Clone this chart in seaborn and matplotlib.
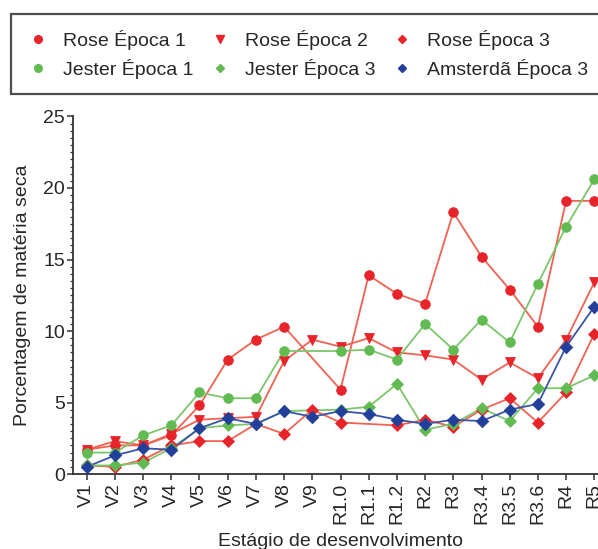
import numpy as np
import pandas as pd
import matplotlib
matplotlib.use("Agg")
import matplotlib.pyplot as plt
from matplotlib.lines import Line2D
from matplotlib.ticker import MultipleLocator
import seaborn as sns

nan = np.nan

stages = ["V1", "V2", "V3", "V4", "V5", "V6", "V7", "V8", "V9",
          "R1.0", "R1.1", "R1.2", "R2", "R3", "R3.4", "R3.5", "R3.6", "R4", "R5"]

rose_e1 = [1.7, 2.0, 2.0, 2.7, 4.8, 8.0, 9.4, 10.3, nan, 5.9, 13.9, 12.6, 11.9, 18.3, 15.2, 12.9, 10.3, 19.1, 19.1]
rose_e2 = [1.7, 2.3, 2.0, 2.8, 3.8, 3.9, 4.0, 7.9, 9.4, 8.9, 9.5, 8.5, 8.3, 8.0, 6.6, 7.8, 6.7, 9.4, 13.4]
rose_e3 = [0.6, 0.5, 1.0, 2.0, 2.3, 2.3, 3.5, 2.8, 4.5, 3.6, nan, 3.4, 3.8, 3.3, 4.5, 5.3, 3.6, 5.7, 9.8]
jester_e1 = [1.5, 1.5, 2.7, 3.4, 5.7, 5.3, 5.3, 8.6, nan, 8.6, 8.7, 8.0, 10.5, 8.7, 10.8, 9.2, 13.3, 17.3, 20.6]
jester_e3 = [0.6, 0.6, 0.8, 1.8, 3.2, 3.4, 3.5, 4.4, nan, 4.5, 4.7, 6.3, 3.1, 3.5, 4.6, 3.7, 6.0, 6.0, 6.9]
amsterda_e3 = [0.5, 1.3, 1.8, 1.7, 3.2, 3.9, 3.5, 4.4, 4.0, 4.4, 4.2, 3.8, 3.5, 3.8, 3.7, 4.5, 4.9, 8.9, 11.7]

series_names = ["Rose Época 1", "Rose Época 2", "Rose Época 3",
                "Jester Época 1", "Jester Época 3", "Amsterdã Época 3"]
series_values = [rose_e1, rose_e2, rose_e3, jester_e1, jester_e3, amsterda_e3]

RED, RED_LINE = "#e8242b", "#f06252"
GREEN, GREEN_LINE = "#62bb52", "#7cc66c"
BLUE, BLUE_LINE = "#22409a", "#3a55a8"

marker_colors = dict(zip(series_names, [RED, RED, RED, GREEN, GREEN, BLUE]))
line_colors = dict(zip(series_names, [RED_LINE, RED_LINE, RED_LINE, GREEN_LINE, GREEN_LINE, BLUE_LINE]))
marker_shapes = dict(zip(series_names, ["o", "v", "D", "o", "D", "D"]))
marker_sizes = dict(zip(series_names, [48, 50, 36, 48, 36, 40]))

# long-form table; missing stages are dropped so lines bridge across them
rows = []
for name, vals in zip(series_names, series_values):
    for i, v in enumerate(vals):
        rows.append({"pos": i, "stage": stages[i], "valor": v, "serie": name})
df = pd.DataFrame(rows).dropna(subset=["valor"])

sns.set_theme(style="ticks")
plt.rcParams["font.family"] = ["Liberation Sans", "DejaVu Sans"]

fig = plt.figure(figsize=(5.98, 5.49), dpi=100)
ax = fig.add_axes([0.1214, 0.1366, 0.896, 0.6512])

sns.lineplot(data=df, x="pos", y="valor", hue="serie", palette=line_colors,
             estimator=None, sort=True, linewidth=1.3, legend=False, ax=ax)
for name in series_names:
    sub = df[df["serie"] == name]
    sns.scatterplot(data=sub, x="pos", y="valor", color=marker_colors[name],
                    marker=marker_shapes[name], s=marker_sizes[name],
                    edgecolor=marker_colors[name], linewidth=0.6,
                    legend=False, ax=ax, zorder=3)

ax.set_xlim(-0.5, len(stages) - 0.5)
ax.set_ylim(0, 25)
ax.set_xticks(range(len(stages)))
ax.set_xticklabels(stages, rotation=90, fontsize=14)
ax.yaxis.set_major_locator(MultipleLocator(5))
ax.yaxis.set_minor_locator(MultipleLocator(0.5))
ax.tick_params(axis="y", which="major", labelsize=14, length=4, width=1.1, pad=1.5, color="#333333")
ax.tick_params(axis="y", which="minor", length=2.2, width=0.9, color="#333333")
ax.tick_params(axis="x", which="major", length=4.5, width=1.1, pad=2, color="#333333")
sns.despine(ax=ax)
for sp in ("left", "bottom"):
    ax.spines[sp].set_linewidth(1.3)
    ax.spines[sp].set_color("#333333")

ax.set_xlabel("Estágio de desenvolvimento", fontsize=14, labelpad=6)
ax.set_ylabel("Porcentagem de matéria seca", fontsize=14, labelpad=9)

handles = [Line2D([], [], linestyle="none", marker=marker_shapes[n],
                  color=marker_colors[n], markersize=5.5 if marker_shapes[n] != "D" else 4.2)
           for n in series_names]
order = [0, 3, 1, 4, 2, 5]
leg = fig.legend([handles[i] for i in order], [series_names[i] for i in order],
                 ncol=3, loc="upper left", bbox_to_anchor=(0.0192, 0.9736),
                 borderaxespad=0, fontsize=14, frameon=True, fancybox=False,
                 borderpad=0.8, handlelength=1.1, handletextpad=0.75,
                 columnspacing=0.8, labelspacing=0.45)
leg.get_frame().set_edgecolor("#222222")
leg.get_frame().set_linewidth(1.6)

fig.savefig("out.png", dpi=100)
